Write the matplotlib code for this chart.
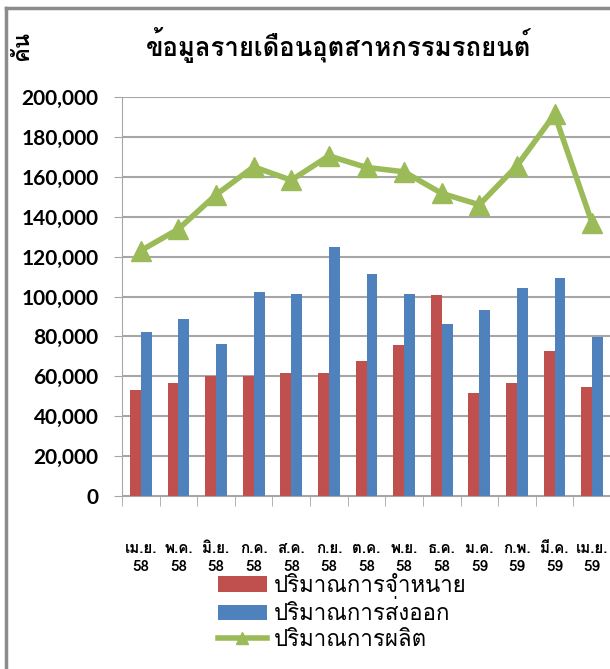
import matplotlib
matplotlib.use("Agg")
import matplotlib.pyplot as plt
from matplotlib import font_manager
from matplotlib.ft2font import FT2Font
from matplotlib.ticker import FuncFormatter
from matplotlib.lines import Line2D
import numpy as np

# ข้อมูลจากกราฟ (คัน)
months = ["เม.ย.\n58", "พ.ค.\n58", "มิ.ย.\n58", "ก.ค.\n58", "ส.ค.\n58", "ก.ย.\n58", "ต.ค.\n58",
          "พ.ย.\n58", "ธ.ค.\n58", "ม.ค.\n59", "ก.พ.\n59", "มี.ค.\n59", "เม.ย.\n59"]
sales = [53300, 56700, 60300, 60300, 61700, 61700, 67500, 75800, 101000, 51500, 56700, 72700, 54800]
export = [82300, 88700, 76300, 102200, 101500, 124700, 111200, 101500, 86200, 93200, 104200, 109200, 79700]
production = [123000, 133800, 151000, 165000, 158300, 170500, 164700, 162500, 151700, 146000, 165500, 191300, 136700]

title = "ข้อมูลรายเดือนอุตสาหกรรมรถยนต์"
ylabel = "คัน"
names = ["ปริมาณการจำหน่าย", "ปริมาณการส่งออก", "ปริมาณการผลิต"]


# หา font ที่มีอักษรไทย
thai_font = None
for f in font_manager.fontManager.ttflist:
    try:
        if 0x0E01 in FT2Font(f.fname).get_charmap():
            thai_font = f.name
            break
    except Exception:
        pass
fam = [thai_font, "DejaVu Sans"] if thai_font else ["DejaVu Sans"]
plt.rcParams["font.family"] = fam

fig = plt.figure(figsize=(6.10, 6.69), dpi=100)
ax = fig.add_axes([122 / 610, 1 - 496 / 669, 489 / 610, 399 / 669])

x = np.arange(len(months))
w = 0.29
b1 = ax.bar(x - w / 2, sales, w, color="#c0504d", zorder=2)
b2 = ax.bar(x + w / 2, export, w, color="#4f81bd", zorder=2)
l3, = ax.plot(x, production, color="#9bbb59", lw=4, marker="^", ms=14, zorder=3)

ax.set_xlim(-0.5, len(months) - 0.5)
ax.set_ylim(0, 200000)
ax.set_yticks(range(0, 200001, 20000))
ax.yaxis.set_major_formatter(FuncFormatter(lambda v, p: f"{int(v):,}"))
ax.grid(axis="y", color="#a6a6a6", lw=1.5, zorder=0)
for s in ["top", "right"]:
    ax.spines[s].set_visible(False)
ax.spines["left"].set_color("#a6a6a6")
ax.spines["bottom"].set_color("#a6a6a6")
ax.tick_params(axis="y", length=6, color="#a6a6a6", pad=11)
for t in ax.get_yticklabels():
    t.set_fontfamily(["Lato", "DejaVu Sans"])
    t.set_fontweight("bold")
    t.set_fontsize(15)

ax.set_xticks(np.arange(len(months) + 1) - 0.5, minor=True)
ax.tick_params(axis="x", which="minor", length=7, color="#a6a6a6")
ax.set_xticks(x)
ax.set_xticklabels(months, fontsize=11, fontweight="bold", linespacing=1.4)
ax.tick_params(axis="x", which="major", length=0, pad=33)

fig.text(339 / 610, 1 - 45 / 669, title, ha="center", va="center", fontsize=18.5, fontweight="bold")
fig.text(22 / 610, 1 - 46 / 669, ylabel, ha="center", va="center", rotation=90, fontsize=16, fontweight="bold")

fig.legend([b1, b2, l3], names, loc="upper left", bbox_to_anchor=(198 / 610, 1 - 553 / 669), frameon=False,
           fontsize=16, handlelength=2.2, labelspacing=0.2, handletextpad=0.3, markerscale=0.6)

# กรอบด้านบนและด้านซ้าย
fig.add_artist(Line2D([6 / 610, 6 / 610], [0, 1 - 8 / 669], transform=fig.transFigure, color="#8c8c8c", lw=2.5))
fig.add_artist(Line2D([6 / 610, 1], [1 - 8 / 669, 1 - 8 / 669], transform=fig.transFigure, color="#8c8c8c", lw=2.5))

fig.savefig("out.png", dpi=100)
